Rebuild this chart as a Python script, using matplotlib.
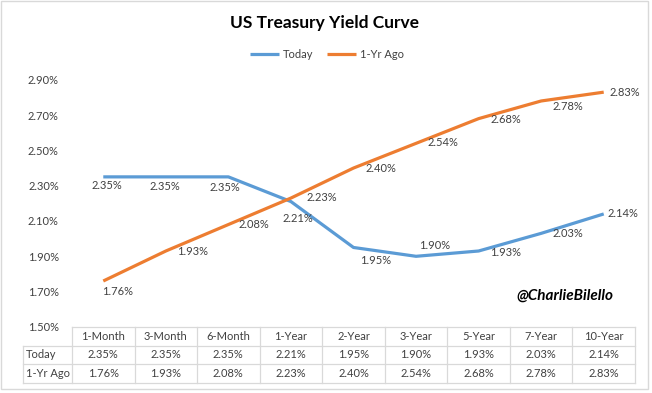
import matplotlib
matplotlib.use("Agg")
import matplotlib.pyplot as plt
from matplotlib.lines import Line2D
from matplotlib.patches import Rectangle

plt.rcParams["font.family"] = ["Lato", "DejaVu Sans"]

# data
maturities = ["1-Month", "3-Month", "6-Month", "1-Year", "2-Year", "3-Year", "5-Year", "7-Year", "10-Year"]
today = [2.35, 2.35, 2.35, 2.21, 1.95, 1.90, 1.93, 2.03, 2.14]
year_ago = [1.76, 1.93, 2.08, 2.23, 2.40, 2.54, 2.68, 2.78, 2.83]
y_ticks = [1.50, 1.70, 1.90, 2.10, 2.30, 2.50, 2.70, 2.90]
series_names = ["Today", "1-Yr Ago"]

BLUE = "#5B9BD5"
ORANGE = "#ED7D31"
TXT = "#404040"
GRID = "#D9D9D9"

# label offsets in pixels (dx, dy down)
today_off = [(4, 9), (-1, 10), (-3, 11), (7, 17), (22, 13), (19, -11), (27, 1), (27, 0), (19, 0)]
ago_off = [(14, 10), (27, 0), (26, 0), (31, -1), (27, 0), (27, -1), (27, 1), (27, 6), (21, 0)]

W, H = 652, 393
fig = plt.figure(figsize=(W / 100, H / 100), dpi=100)

# overlay in pixel coordinates for table, frame and titles
ov = fig.add_axes([0, 0, 1, 1])
ov.set_xlim(0, W)
ov.set_ylim(H, 0)
ov.axis("off")
ov.add_patch(Rectangle((1, 1), 647, 388, fill=False, ec=GRID, lw=1))

# plot area
left, right = 72, 635
top, bottom = 79.8, 326.9
ax = fig.add_axes([left / W, 1 - bottom / H, (right - left) / W, (bottom - top) / H])
ax.patch.set_visible(False)
ax.set_zorder(2)
x = list(range(len(maturities)))
l1, = ax.plot(x, today, color=BLUE, lw=2.3, solid_capstyle="butt", label=series_names[0])
l2, = ax.plot(x, year_ago, color=ORANGE, lw=2.3, solid_capstyle="butt", label=series_names[1])
ax.set_xlim(-0.5, len(maturities) - 0.5)
ax.set_ylim(y_ticks[0], y_ticks[-1])
ax.set_yticks(y_ticks)
ax.set_yticklabels([f"{t:.2f}%" for t in y_ticks])
ax.set_xticks([])
ax.tick_params(axis="y", length=0, pad=9.5, labelsize=8, labelcolor=TXT)
for s in ax.spines.values():
    s.set_visible(False)

for vals, offs in ((today, today_off), (year_ago, ago_off)):
    for i, v in enumerate(vals):
        dx, dy = offs[i]
        ax.annotate(f"{v:.2f}%", (i, v), xytext=(dx * 0.72, -dy * 0.72), textcoords="offset points",
                    ha="center", va="center", fontsize=8, color=TXT)

# title and legend
ov.text(325, 23, "US Treasury Yield Curve", ha="center", va="center", fontsize=12.5,
        fontweight="bold", color="black")
fig.legend(handles=[l1, l2], loc="center", bbox_to_anchor=(327 / W, 1 - 54 / H), ncol=2,
           frameon=False, fontsize=8, handlelength=2.6, handletextpad=0.3, columnspacing=1.3,
           labelcolor=TXT)

ov.text(565, 296, "@CharlieBilello", ha="center", va="center", fontsize=11,
        fontweight="bold", style="italic", color="black")

# data table under the chart
col_w = (right - left) / len(maturities)
rows_y = [327, 345.7, 364.3, 383]
lab_left = 23
ov.plot([left, right], [rows_y[0]] * 2, color=GRID, lw=0.9)
for yy in rows_y[1:]:
    ov.plot([lab_left, right], [yy, yy], color=GRID, lw=0.9)
ov.plot([lab_left, lab_left], [rows_y[1], rows_y[3]], color=GRID, lw=0.9)
for i in range(len(maturities) + 1):
    xx = left + i * col_w
    ov.plot([xx, xx], [rows_y[0], rows_y[3]], color=GRID, lw=0.9)

for i, m in enumerate(maturities):
    cx = left + (i + 0.5) * col_w
    ov.text(cx, (rows_y[0] + rows_y[1]) / 2, m, ha="center", va="center", fontsize=8, color=TXT)
    ov.text(cx, (rows_y[1] + rows_y[2]) / 2, f"{today[i]:.2f}%", ha="center", va="center",
            fontsize=8, color=TXT)
    ov.text(cx, (rows_y[2] + rows_y[3]) / 2, f"{year_ago[i]:.2f}%", ha="center", va="center",
            fontsize=8, color=TXT)
for r, name in enumerate(series_names):
    ov.text(lab_left + 3, (rows_y[r + 1] + rows_y[r + 2]) / 2, name, ha="left", va="center",
            fontsize=8, color=TXT)

fig.savefig("out.png", dpi=100)
